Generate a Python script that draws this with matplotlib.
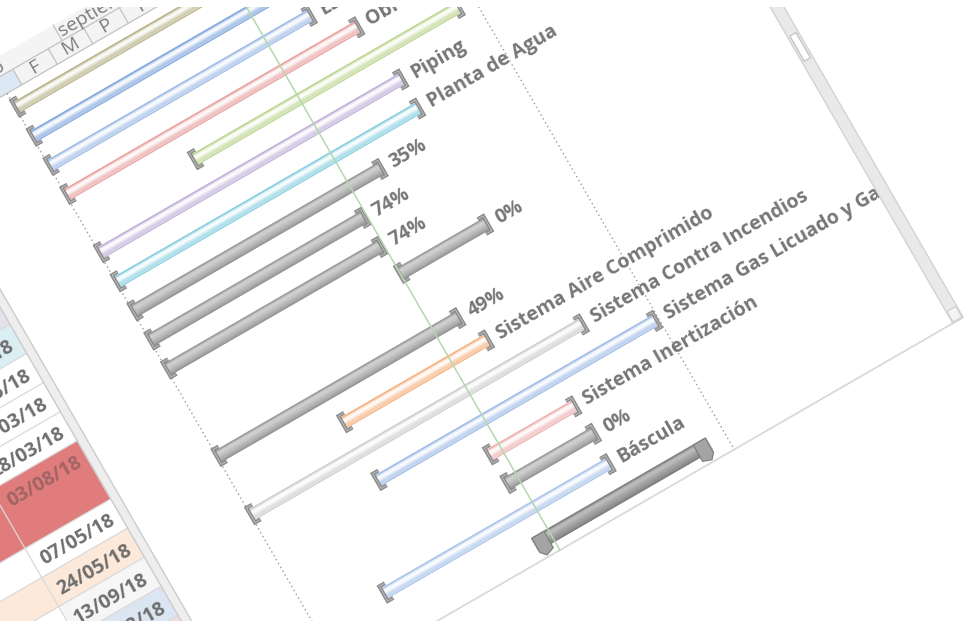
import numpy as np
import matplotlib.pyplot as plt
import matplotlib.dates as mdates
from matplotlib.transforms import Affine2D
from matplotlib.patches import Rectangle, Polygon
from matplotlib.colors import to_rgb

plt.rcParams['font.family'] = ['Open Sans', 'DejaVu Sans']

# tareas, de arriba a abajo
labels = ["", "", "Estructuras", "Obras Civiles", "", "Piping", "Planta de Agua",
          "35%", "74%", "74%", "0%", "49%",
          "Sistema Aire Comprimido", "Sistema Contra Incendios",
          "Sistema Gas Licuado y Gas", "Sistema Inertización", "0%", "Báscula", ""]
starts = ["2017-05-24", "2017-05-24", "2017-05-24", "2017-05-24", "2017-10-30",
          "2017-05-24", "2017-05-24", "2017-05-24", "2017-05-24", "2017-05-24",
          "2018-03-30", "2017-05-24", "2017-10-27", "2017-05-24", "2017-10-28",
          "2018-03-13", "2018-03-14", "2017-08-26", "2018-03-08"]
finishes = ["2018-10-31", "2018-09-14", "2018-06-04", "2018-07-18", "2018-11-15",
            "2018-08-02", "2018-08-02", "2018-05-16", "2018-03-28", "2018-03-28",
            "2018-08-03", "2018-05-07", "2018-05-24", "2018-09-13", "2018-12-03",
            "2018-07-16", "2018-07-20", "2018-07-17", "2018-11-12"]
styles = ['pale'] * 7 + ['gray'] * 5 + ['pale'] * 4 + ['gray', 'pale', 'summary']
bar_colors = ['#b8b288', '#7fa6dc', '#9dbbe6', '#e8a0a0', '#bcd58f', '#bfb0d8', '#86cedf',
              None, None, None, None, None,
              '#f5b07e', '#cdcdcd', '#9fbbe6', '#eeb0b0', None, '#a9c3ea', None]
fin_colors = ['#eeece1', '#dce6f2', '#dce6f2', '#f2dcdb', '#ebf1de', '#e6e0ec', '#dbeef4',
              'white', 'white', 'white', '#e07c7c', 'white', '#fde9d9', '#f6f6f6',
              '#dce6f2', '#f2dcdb', 'white', '#dce6f2', 'white']
left_colors = ['white'] * 10 + ['#e07c7c', 'white', '#fde9d9'] + ['white'] * 6
row_lines = [1] * 10 + [2] + [1] * 8

project_start = "2017-05-24"
project_finish = "2018-12-06"
today = "2018-03-31"

top_tier = ["agosto", "septiembre"]
bottom_tier = ["", "F", "M", "P", "F"]

# geometria de la vista (px)
X0, Y0, ANG = 15, 107, 30
PX_DAY = 0.805
ROW_H = 33.6
V0 = 1.0

t_start = mdates.datestr2num(starts)
t_end = mdates.datestr2num(finishes)
t0 = mdates.datestr2num(project_start)
slot = np.concatenate([[0], np.cumsum(row_lines)[:-1]])
n = len(labels)

fig = plt.figure(figsize=(9.66, 6.21), dpi=100)
ax = fig.add_axes([0, 0, 1, 1])
ax.set_xlim(0, 966)
ax.set_ylim(621, 0)
ax.axis('off')

frame = Affine2D().rotate_deg(-ANG).translate(X0, Y0) + ax.transData
gantt = Affine2D().translate(-t0, 0).scale(PX_DAY, ROW_H).translate(0, V0) + frame

TXT = dict(rotation=ANG, rotation_mode='anchor', fontsize=14,
           fontweight='bold', color='#767676')

# --- tabla (columna Fin y la anterior) ---
U_LEFT, U_FIN, U_SPLIT = -320, -212, -113
for i in range(n):
    vt = V0 + ROW_H * (slot[i] - 0.5)
    h = ROW_H * row_lines[i]
    ax.add_patch(Rectangle((U_LEFT, vt), U_FIN - U_LEFT, h, fc=left_colors[i],
                           ec='#dadada', lw=0.8, transform=frame, zorder=1))
    ax.add_patch(Rectangle((U_FIN, vt), U_SPLIT - U_FIN, h, fc=fin_colors[i],
                           ec='#dadada', lw=0.8, transform=frame, zorder=1))
    fin_txt = mdates.num2date(t_end[i]).strftime('%d/%m/%y')
    col = '#a06464' if fin_colors[i] == '#e07c7c' else '#6e6e6e'
    ax.text(U_SPLIT - 8, V0 + ROW_H * slot[i], fin_txt, transform=frame,
            ha='right', va='center_baseline', **{**TXT, 'color': col})

# separador entre tabla y diagrama
ax.add_patch(Rectangle((U_SPLIT, -400), 9, 1100, fc='#eeeeee', ec='#cccccc', lw=1,
                       transform=frame, zorder=2))

# --- escala de tiempo ---
V_HB = V0 - ROW_H * 0.5
ax.add_patch(Rectangle((-104, V_HB - 36), 808, 36, fc='#f4f4f4', ec='none',
                       transform=frame, zorder=1))
ax.add_patch(Rectangle((-24, V_HB - 18), 41, 18, fc='#dde8f5', ec='none',
                       transform=frame, zorder=1))
for k in range(-2, 18):
    u = -24 + 41 * k
    ax.plot([u, u], [V_HB - 18, V_HB], color='#c2c2c2', lw=0.9, transform=frame, zorder=2)
for k in range(-1, 6):
    u = -52 + 126 * k
    ax.plot([u, u], [V_HB - 36, V_HB - 18], color='#c2c2c2', lw=0.9, transform=frame, zorder=2)
for vv in (V_HB - 18, V_HB):
    ax.plot([-104, 704], [vv, vv], color='#c2c2c2', lw=0.9, transform=frame, zorder=2)
for k, lab in enumerate(bottom_tier):
    ax.text(-3.5 + 41 * k, V_HB - 9, lab, transform=frame, ha='center', va='center',
            rotation=ANG, rotation_mode='anchor', fontsize=14, color='#7d7d7d')
for k, lab in enumerate(top_tier):
    ax.text(-50 + 126 * k, V_HB - 27, lab, transform=frame, ha='left', va='center',
            rotation=ANG, rotation_mode='anchor', fontsize=14, color='#7d7d7d')

# --- bordes del panel (encima de los nombres largos, que quedan cortados) ---
V_END = V0 + ROW_H * (slot[-1] + 0.5)
ax.plot([-330, 716], [V_END, V_END], color='#d9d9d9', lw=1.3, transform=frame, zorder=2)
ax.add_patch(Rectangle((716, -1000), 2000, 2500, fc='white', ec='none',
                       transform=frame, zorder=8))
ax.add_patch(Rectangle((704, -120), 12, V_END + 120, fc='#e9e9e9', ec='#d3d3d3', lw=1,
                       transform=frame, zorder=9))
ax.add_patch(Rectangle((706.5, 326), 7, 29, fc='white', ec='#c2c2c2', lw=0.9,
                       transform=frame, zorder=10))
ax.add_patch(Rectangle((705, V_END - 13), 10, 12, fc='#f4f4f4', ec='#cfcfcf', lw=0.8,
                       transform=frame, zorder=10))

# lineas de inicio/fin de proyecto
y_lines = [-0.5, slot[-1] + 0.5]
for d in (project_start, project_finish):
    x = mdates.datestr2num(d)
    ax.plot([x, x], y_lines, color='#9c9c9c', lw=1, ls=(0, (1, 2.2)),
            transform=gantt, zorder=2)

# --- barras ---
gray_prof = ['#a2a2a2', '#c8c8c8', '#d0d0d0', '#cbcbcb', '#c3c3c3',
             '#bbbbbb', '#b2b2b2', '#aaaaaa', '#9b9b9b']
sum_prof = ['#8f8f8f', '#b4b4b4', '#bdbdbd', '#b5b5b5', '#aaaaaa',
            '#a2a2a2', '#9a9a9a', '#929292', '#868686']


def pale(c):
    c = np.array(to_rgb(c))
    k = np.array([0.95, 0.35, 0.08, 0.05, 0.2, 0.42, 0.62, 0.65, 0.5])
    return [tuple(1 - kk * (1 - c)) for kk in k]


def shaded(x0, x1, top, bot, prof):
    # franjas superpuestas para simular el degradado de la barra
    step = (bot - top) / len(prof)
    for j, c in enumerate(prof):
        yj = top + j * step
        ax.add_patch(Rectangle((x0, yj), x1 - x0, bot - yj, fc=c, ec='none', lw=0,
                               transform=gantt, zorder=4))


def bracket(x, y, side):
    arm = 6.5 / PX_DAY
    hh = 8.5 / ROW_H
    ax.plot([x + side * arm, x, x, x + side * arm], [y - hh, y - hh, y + hh, y + hh],
            color='#8a8a8a', lw=2.8, solid_joinstyle='miter', solid_capstyle='butt',
            transform=gantt, zorder=6)
    ax.plot([x + side * arm, x, x, x + side * arm], [y - hh, y - hh, y + hh, y + hh],
            color='#b8b8b8', lw=0.8, solid_joinstyle='miter', solid_capstyle='butt',
            transform=gantt, zorder=6)


for i in range(n):
    x0, x1, y = t_start[i], t_end[i], slot[i]
    if styles[i] == 'summary':
        top, bot = y - 7.5 / ROW_H, y + 6.5 / ROW_H
        shaded(x0, x1, top, bot, sum_prof)
        ax.add_patch(Rectangle((x0, top), x1 - x0, bot - top, fill=False, ec='#808080',
                               lw=0.9, transform=gantt, zorder=5))
        cap, drop = 14 / PX_DAY, 8 / ROW_H
        for xe, s in ((x0, 1), (x1, -1)):
            pts = [(xe, top), (xe, bot + 0.3 * drop), (xe + s * 5 / PX_DAY, bot + drop),
                   (xe + s * cap, bot + 0.6 * drop), (xe + s * cap, top)]
            ax.add_patch(Polygon(pts, closed=True, fc='#a4a4a4', ec='#808080', lw=0.9,
                                 transform=gantt, zorder=5))
        continue
    h = (11.5 if styles[i] == 'pale' else 12.5) / ROW_H
    prof = pale(bar_colors[i]) if styles[i] == 'pale' else gray_prof
    edge = bar_colors[i] if styles[i] == 'pale' else '#979797'
    shaded(x0, x1, y - h / 2, y + h / 2, prof)
    ax.add_patch(Rectangle((x0, y - h / 2), x1 - x0, h, fill=False, ec=edge, lw=0.8,
                           alpha=0.85, transform=gantt, zorder=5))
    bracket(x0, y, 1)
    bracket(x1, y, -1)
    if labels[i]:
        ax.text(x1 + 10 / PX_DAY, y - 1.5 / ROW_H, labels[i], transform=gantt,
                ha='left', va='center_baseline', zorder=7, **TXT)

x_today = mdates.datestr2num(today)
ax.plot([x_today, x_today], y_lines, color='#b4d8ad', lw=1.1, transform=gantt, zorder=7)

# borde superior de la captura
ax.add_patch(Rectangle((0, 0), 966, 6.5, fc='white', ec='none', zorder=60))

ax.set_xlim(0, 966)
ax.set_ylim(621, 0)
fig.savefig('out.png', dpi=100)
